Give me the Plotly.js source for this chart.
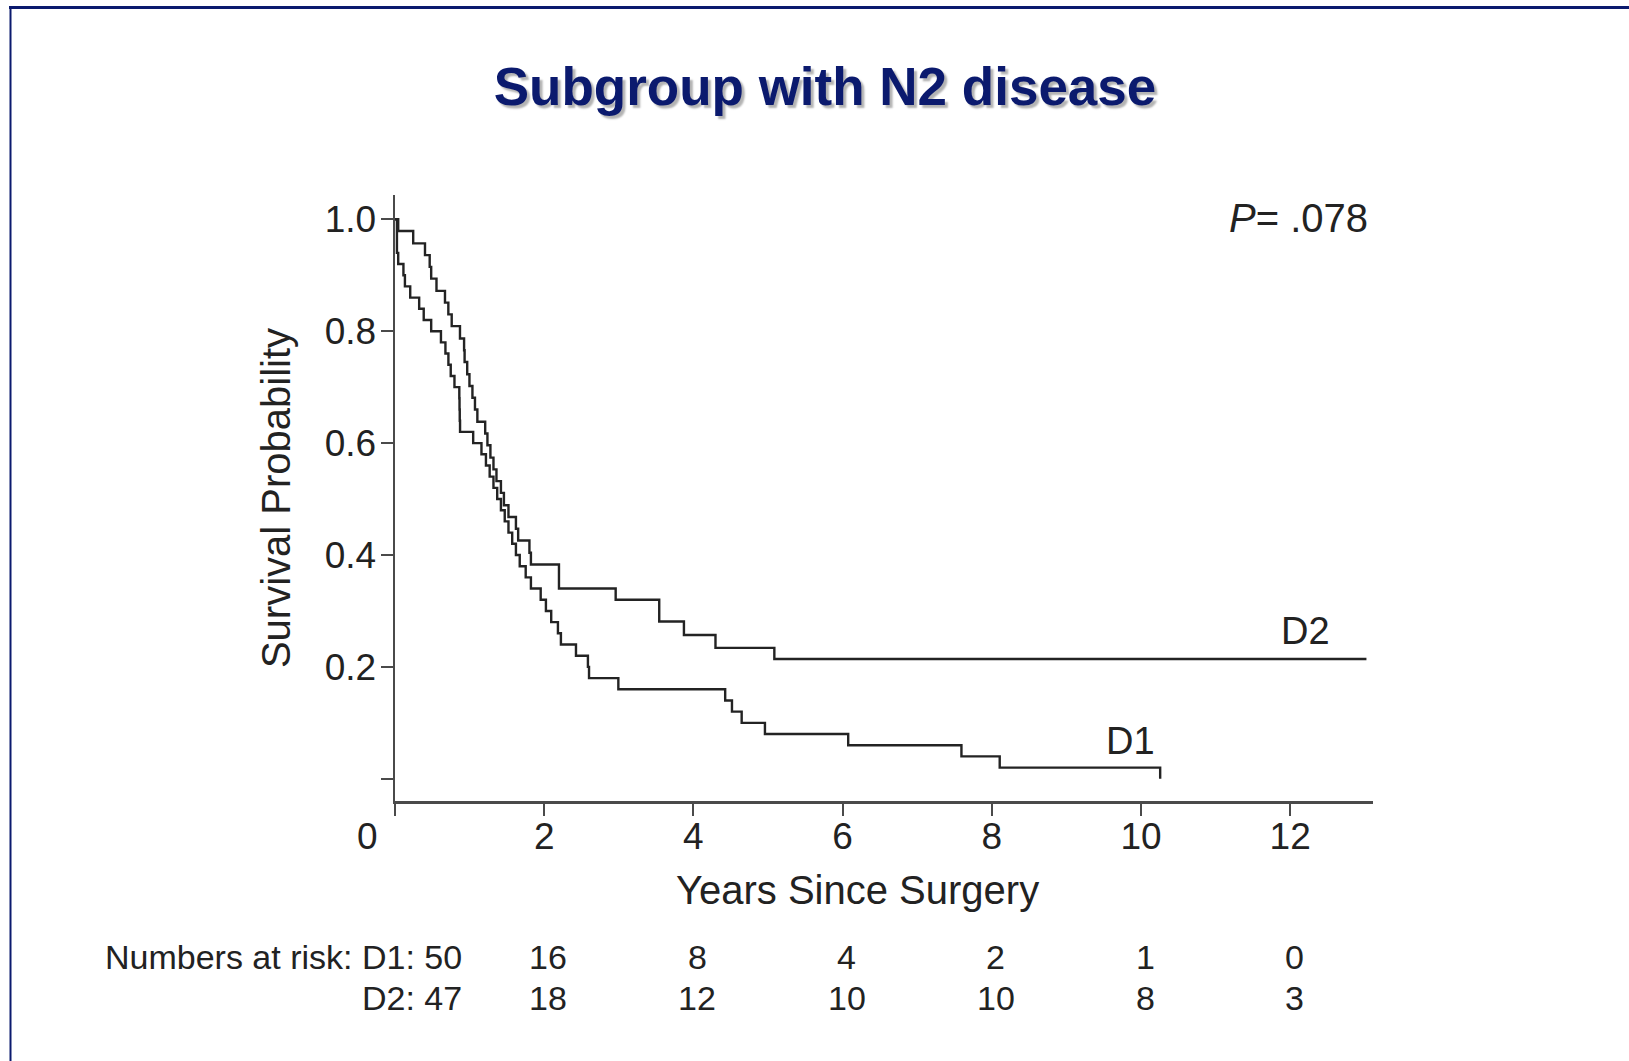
<!DOCTYPE html>
<html>
<head>
<meta charset="utf-8">
<script src="https://cdn.plot.ly/plotly-3.0.1.min.js"></script>
<style>
  html, body { margin: 0; padding: 0; background: #fff; }
  #chart { width: 1629px; height: 1061px; }
</style>
</head>
<body>
<div id="chart"></div>
<script>
// Kaplan-Meier survival, patients with N2 disease, by dissection group
const d1Years = [0, 0.026, 0.043, 0.113, 0.133, 0.204, 0.324, 0.385, 0.485, 0.616, 0.676, 0.716, 0.747, 0.797,
  0.862, 0.865, 0.868, 0.872, 1.048, 1.159, 1.219, 1.269, 1.320, 1.370, 1.420, 1.471, 1.521, 1.571, 1.621,
  1.672, 1.752, 1.822, 1.953, 2.023, 2.094, 2.184, 2.224, 2.426, 2.586, 2.601, 2.994, 4.426, 4.517, 4.647,
  4.959, 6.075, 7.593, 8.106, 10.257];
const d1Survival = [1.00, 0.94, 0.92, 0.90, 0.88, 0.86, 0.84, 0.82, 0.80, 0.78, 0.76, 0.74, 0.72, 0.70,
  0.68, 0.66, 0.64, 0.62, 0.60, 0.58, 0.56, 0.54, 0.52, 0.50, 0.48, 0.46, 0.44, 0.42, 0.40,
  0.38, 0.36, 0.34, 0.32, 0.30, 0.28, 0.26, 0.24, 0.22, 0.20, 0.18, 0.16, 0.14, 0.12, 0.10,
  0.08, 0.06, 0.04, 0.02, 0.00];

const d2Years = [0, 0.043, 0.244, 0.402, 0.465, 0.485, 0.556, 0.670, 0.715, 0.760, 0.871, 0.926, 0.933,
  0.968, 0.998, 1.038, 1.072, 1.104, 1.209, 1.239, 1.279, 1.320, 1.360, 1.420, 1.460, 1.521, 1.621, 1.651,
  1.802, 1.822, 2.198, 2.958, 3.542, 3.873, 4.296, 5.085, 13.022];
const d2Survival = [1.0, 0.979, 0.957, 0.936, 0.915, 0.894, 0.872, 0.851, 0.830, 0.809, 0.787, 0.766, 0.745,
  0.723, 0.702, 0.681, 0.660, 0.638, 0.617, 0.596, 0.574, 0.553, 0.532, 0.511, 0.489, 0.468, 0.447, 0.426,
  0.404, 0.383, 0.340, 0.320, 0.281, 0.257, 0.234, 0.214, 0.214];

// numbers at risk below the axis
const riskYears = [2, 4, 6, 8, 10, 12];
const riskD1 = [16, 8, 4, 2, 1, 0];
const riskD2 = [18, 12, 10, 10, 8, 3];
const riskD1Start = 50;
const riskD2Start = 47;

const xTicks = [0, 2, 4, 6, 8, 10, 12];
const xTickText = ['', '2', '4', '6', '8', '10', '12'];   // the 0 sits under the corner, set separately
const yTicks = [0, 0.2, 0.4, 0.6, 0.8, 1.0];
const yTickText = ['', '0.2', '0.4', '0.6', '0.8', '1.0'];

const FONT = 'Arial, "Liberation Sans", Helvetica, sans-serif';
const INK = '#222';
const NAVY = '#0b1a6e';

const curveLine = { color: '#232323', width: 2.4, shape: 'hv' };

const traces = [
  { x: d1Years, y: d1Survival, name: 'D1', type: 'scatter', mode: 'lines', line: curveLine },
  { x: d2Years, y: d2Survival, name: 'D2', type: 'scatter', mode: 'lines', line: curveLine }
];

// plot box in pixels: left 395, right 1373, top 195, bottom 801
const W = 1629, H = 1061, L = 395, R = 256, T = 195, B = 260;
const plotW = W - L - R, plotH = H - T - B;
const PX_PER_YEAR = 74.6;
const px = v => (v - L) / plotW;          // page x -> paper x
const py = v => (H - B - v) / plotH;      // page y -> paper y

const annotations = [
  { xref: 'paper', yref: 'paper', x: px(367), y: py(836), xanchor: 'center', yanchor: 'middle',
    text: '0', showarrow: false, font: { family: FONT, size: 37, color: INK } },
  { xref: 'paper', yref: 'paper', x: px(857), y: py(890), xanchor: 'center', yanchor: 'middle',
    text: 'Years Since Surgery', showarrow: false, font: { family: FONT, size: 40, color: INK } },
  { xref: 'paper', yref: 'paper', x: px(1370), y: py(218), xanchor: 'right', yanchor: 'middle',
    text: '<i>P</i>= .078', showarrow: false, font: { family: FONT, size: 40, color: INK } },
  { xref: 'x', yref: 'y', x: 12.21, y: 0.265, text: 'D2', showarrow: false,
    font: { family: FONT, size: 38, color: INK } },
  { xref: 'x', yref: 'y', x: 9.86, y: 0.068, text: 'D1', showarrow: false,
    font: { family: FONT, size: 38, color: INK } },
  { xref: 'paper', yref: 'paper', x: px(464), y: py(957), xanchor: 'right', yanchor: 'middle',
    text: 'Numbers at risk: D1: ' + riskD1Start, showarrow: false, font: { family: FONT, size: 34, color: INK } },
  { xref: 'paper', yref: 'paper', x: px(464), y: py(998), xanchor: 'right', yanchor: 'middle',
    text: 'D2: ' + riskD2Start, showarrow: false, font: { family: FONT, size: 34, color: INK } }
];
riskYears.forEach((yr, i) => {
  annotations.push({ xref: 'x', yref: 'paper', x: yr, xshift: 4, y: py(957), yanchor: 'middle', text: String(riskD1[i]),
    showarrow: false, font: { family: FONT, size: 34, color: INK } });
  annotations.push({ xref: 'x', yref: 'paper', x: yr, xshift: 4, y: py(998), yanchor: 'middle', text: String(riskD2[i]),
    showarrow: false, font: { family: FONT, size: 34, color: INK } });
});

// slide frame: rule across the top and down the left side
const shapes = [
  { type: 'line', xref: 'paper', yref: 'paper', x0: px(9), x1: px(W), y0: py(7.5), y1: py(7.5),
    line: { color: NAVY, width: 3 } },
  { type: 'line', xref: 'paper', yref: 'paper', x0: px(10.5), x1: px(10.5), y0: py(6), y1: py(H),
    line: { color: NAVY, width: 2 } }
];

const axisCommon = {
  showgrid: false, zeroline: false, showline: true, linecolor: '#4a4a4a', linewidth: 2.5,
  ticks: 'outside', ticklen: 12, tickwidth: 2, tickcolor: '#4a4a4a',
  tickfont: { family: FONT, size: 37, color: INK }, fixedrange: true
};

const layout = {
  width: W, height: H,
  margin: { l: L, r: R, t: T, b: B, pad: 0 },
  paper_bgcolor: '#ffffff', plot_bgcolor: '#ffffff',
  showlegend: false,
  font: { family: FONT, color: INK },
  title: {
    text: 'Subgroup with N2 disease',
    xref: 'container', yref: 'container', x: 825 / W, y: 1 - 86 / H, xanchor: 'center', yanchor: 'middle',
    font: { family: FONT, size: 53, weight: 'bold', color: NAVY, shadow: '3px 3px 2px rgba(0,0,0,0.3)' }
  },
  xaxis: Object.assign({}, axisCommon, {
    range: [0, plotW / PX_PER_YEAR], tickvals: xTicks, ticktext: xTickText, ticklabelstandoff: -11
  }),
  yaxis: Object.assign({}, axisCommon, {
    range: [-0.0397, 1.0434], tickvals: yTicks, ticktext: yTickText, ticklabelstandoff: -3,
    title: { text: 'Survival Probability', font: { family: FONT, size: 40, color: INK }, standoff: 22 }
  }),
  annotations: annotations,
  shapes: shapes
};

Plotly.newPlot('chart', traces, layout, { displayModeBar: false, staticPlot: true });
</script>
</body>
</html>
